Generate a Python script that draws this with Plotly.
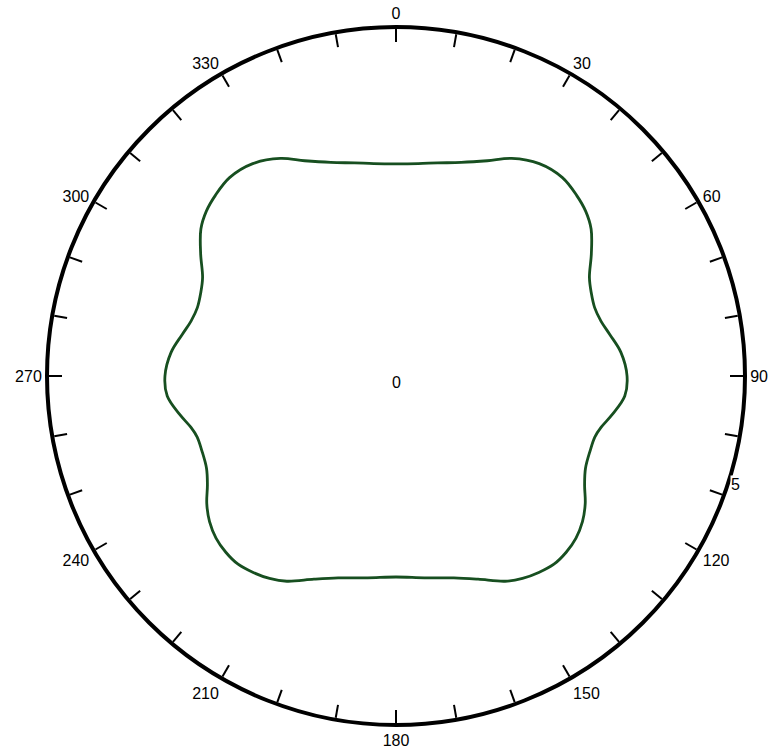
import plotly.graph_objects as go

# curve: angle (deg, clockwise from top) and radius
theta = [0, 6, 11, 17, 23, 28, 34, 40, 45, 49, 53, 58, 63, 67, 71, 75, 79, 84, 90,
         95, 100, 104, 107, 111, 116, 120, 124, 128, 132, 136, 140, 144, 148, 152, 158, 164, 172, 180,
         188, 196, 202, 208, 212, 216, 220, 224, 228, 232, 236, 240, 244, 249, 253, 256, 260, 265, 270,
         276, 281, 285, 289, 293, 297, 302, 307, 311, 315, 320, 326, 332, 337, 343, 349, 354, 360]
r = [3.04, 3.06, 3.11, 3.20, 3.35, 3.53, 3.67, 3.71, 3.66, 3.60, 3.50, 3.30, 3.11, 3.04, 3.01, 3.04,
     3.12, 3.24, 3.31,
     3.29, 3.15, 3.03, 2.98, 2.98, 3.02, 3.12, 3.27, 3.39, 3.47, 3.51, 3.52, 3.48, 3.42, 3.33, 3.14,
     3.01, 2.92, 2.88,
     2.92, 3.01, 3.14, 3.33, 3.42, 3.48, 3.52, 3.51, 3.47, 3.39, 3.27, 3.12, 3.02, 2.98, 2.98, 3.03,
     3.15, 3.29, 3.31,
     3.24, 3.12, 3.04, 3.01, 3.04, 3.11, 3.30, 3.50, 3.60, 3.66, 3.71, 3.67, 3.53, 3.35, 3.20, 3.11,
     3.06, 3.04]

tick_angles = list(range(0, 360, 10))
tick_text = [str(a) if a % 30 == 0 else "" for a in tick_angles]
radial_labels = ["0", "5"]

fig = go.Figure()
fig.add_trace(go.Scatterpolar(r=r, theta=theta, mode="lines", line_shape="spline",
                              line=dict(color="#174f20", width=2.8), showlegend=False))

fig.update_layout(
    width=776, height=750,
    margin=dict(l=47, r=31, t=27, b=25),
    paper_bgcolor="white",
    font=dict(family="Liberation Sans, Arial, sans-serif", size=16, color="black"),
    polar=dict(
        bgcolor="white",
        angularaxis=dict(direction="clockwise", rotation=90, tickvals=tick_angles, ticktext=tick_text,
                         ticks="inside", ticklen=13, tickwidth=1.5, tickcolor="black",
                         showline=True, linewidth=4, linecolor="black", showgrid=False),
        radialaxis=dict(range=[0, 5], showticklabels=False, showline=False, showgrid=False, ticks=""),
    ),
)

# radial labels: one at the centre, one sitting on the rim
fig.add_annotation(text=radial_labels[0], xref="paper", yref="paper", x=0.5014, y=0.490,
                   showarrow=False, xanchor="center", yanchor="middle", font=dict(size=16))
fig.add_annotation(text=radial_labels[1], xref="paper", yref="paper", x=0.9857, y=0.344,
                   showarrow=False, xanchor="center", yanchor="middle", bgcolor="white",
                   borderpad=0, font=dict(size=16))

# page margin off so the figure fills the window edge to edge
fig.write_html("out.html", config={"displayModeBar": False},
               post_script="document.body.style.margin='0';")
